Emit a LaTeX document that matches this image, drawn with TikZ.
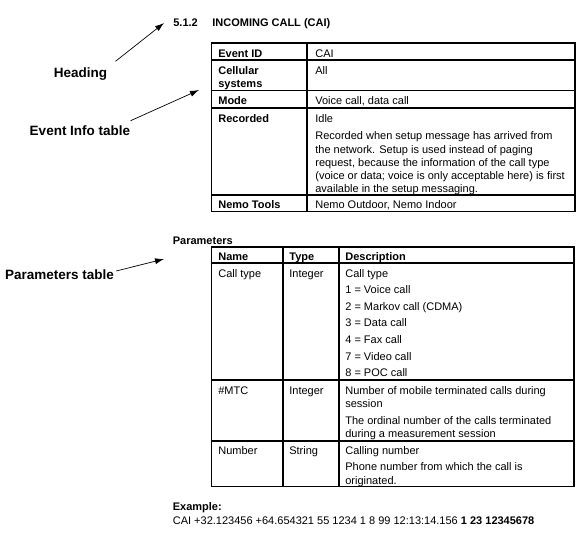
\documentclass[tikz,border=0pt]{standalone}
\usepackage{fontspec}
\setmainfont{Liberation Sans}
\usetikzlibrary{arrows.meta}

\begin{document}
\begin{tikzpicture}[x=1pt, y=-1pt, >={Latex[length=9pt,width=6pt]}, line width=0.7pt,
	txt/.style={anchor=base west, inner sep=0pt, font=\fontsize{11}{13.3}\selectfont},
	bold/.style={anchor=base west, inner sep=0pt, font=\fontsize{11}{13.3}\selectfont\bfseries},
	lbl/.style={inner sep=2pt, font=\fontsize{13.5}{16}\selectfont\bfseries},
	grid/.style={line width=1.1pt}]
	\useasboundingbox (0,0) rectangle (584,544);

	% Heading
	\node [bold] (secnum)   at (173,26.5) {5.1.2};
	\node [bold] (sectitle) at (212,26.5) {INCOMING CALL (CAI)};

	% Event info table
	\draw [grid] (211.5,43) rectangle (575,211.5);
	\draw [grid] (307,43) -- (307,211.5);
	\draw [grid] (211.5,60) -- (575,60);
	\draw [grid] (211.5,90.5) -- (575,90.5);
	\draw [grid] (211.5,108) -- (575,108);
	\draw [grid] (211.5,195) -- (575,195);

	\node [bold] (evid)     at (218,57)    {Event ID};
	\node [txt]  (evidval)  at (315,57)    {CAI};
	\node [bold] (cell)     at (218,74)    {Cellular};
	\node [bold] (cellb)    at (218,87.3)  {systems};
	\node [txt]  (cellval)  at (315,74)    {All};
	\node [bold] (mode)     at (218,104.5) {Mode};
	\node [txt]  (modeval)  at (315,104.5) {Voice call, data call};
	\node [bold] (rec)      at (218,122)   {Recorded};
	\node [txt]  (recval)   at (315,122)   {Idle};
	\node [txt]  (recl1)    at (315,139.7) {Recorded when setup message has arrived from};
	\node [txt]  (recl2)    at (315,153)   {the network. Setup is used instead of paging};
	\node [txt]  (recl3)    at (315,166.3) {request, because the information of the call type};
	\node [txt]  (recl4)    at (315,179.6) {(voice or data; voice is only acceptable here) is first};
	\node [txt]  (recl5)    at (315,192.9) {available in the setup messaging.};
	\node [bold] (tools)    at (218,208.5) {Nemo Tools};
	\node [txt]  (toolsval) at (315,208.5) {Nemo Outdoor, Nemo Indoor};

	% Parameters table
	\node [bold] (partitle) at (172.5,244) {Parameters};
	\draw [grid] (211.5,247) rectangle (574,486.5);
	\draw [grid] (283,247) -- (283,486.5);
	\draw [grid] (339,247) -- (339,486.5);
	\draw [grid] (211.5,263) -- (574,263);
	\draw [grid] (211.5,380) -- (574,380);
	\draw [grid] (211.5,441) -- (574,441);

	\node [bold] (hname)  at (218,260)   {Name};
	\node [bold] (htype)  at (289,260)   {Type};
	\node [bold] (hdesc)  at (345,260)   {Description};

	\node [txt] (ctname)  at (218,277)   {Call type};
	\node [txt] (cttype)  at (289,277)   {Integer};
	\node [txt] (ctdesc)  at (345,277)   {Call type};
	\node [txt] (ct1)     at (345,293.6) {1 = Voice call};
	\node [txt] (ct2)     at (345,310.2) {2 = Markov call (CDMA)};
	\node [txt] (ct3)     at (345,326.8) {3 = Data call};
	\node [txt] (ct4)     at (345,343.4) {4 = Fax call};
	\node [txt] (ct7)     at (345,360)   {7 = Video call};
	\node [txt] (ct8)     at (345,376.6) {8 = POC call};

	\node [txt] (mtcname) at (218,394)   {\#MTC};
	\node [txt] (mtctype) at (289,394)   {Integer};
	\node [txt] (mtcd1)   at (345,394)   {Number of mobile terminated calls during};
	\node [txt] (mtcd2)   at (345,407.3) {session};
	\node [txt] (mtcd3)   at (345,424)   {The ordinal number of the calls terminated};
	\node [txt] (mtcd4)   at (345,437.3) {during a measurement session};

	\node [txt] (numname) at (218,454.7) {Number};
	\node [txt] (numtype) at (289,454.7) {String};
	\node [txt] (numd1)   at (345,454.7) {Calling number};
	\node [txt] (numd2)   at (345,470.7) {Phone number from which the call is};
	\node [txt] (numd3)   at (345,484)   {originated.};

	% Example
	\node [bold] (extitle) at (172.5,510.7) {Example:};
	\node [txt]  (exline)  at (172.5,524)   {CAI +32.123456 +64.654321 55 1234 1 8 99 12:13:14.156 \textbf{1 23 12345678}};

	% Labels and arrows
	\node [lbl] (heading)  at (80.5,74)  {Heading};
	\node [lbl] (eventlbl) at (80,131)   {Event Info table};
	\node [lbl] (paramlbl) at (59.5,275) {Parameters table};
	\coordinate (headtip)  at (164,23);
	\coordinate (eventtip) at (199,90);
	\coordinate (paramtip) at (164,259);

	\draw [->] ([shift={(6pt,4pt)}]heading.north east) -- (headtip);
	\draw [->] ([shift={(-2pt,3pt)}]eventlbl.north east) -- (eventtip);
	\draw [->] ([yshift=4pt]paramlbl.east) -- (paramtip);
\end{tikzpicture}
\end{document}
